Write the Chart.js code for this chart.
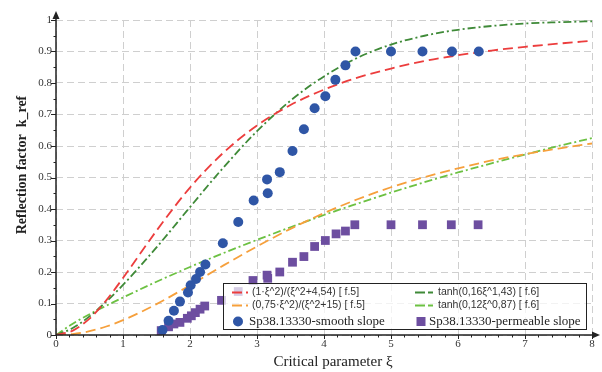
<!DOCTYPE html>
<html>
<head>
<meta charset="utf-8">
<script src="https://cdn.jsdelivr.net/npm/chart.js@4.4.1/dist/chart.umd.min.js"></script>
<style>
  html, body { margin: 0; padding: 0; background: #fff; }
  #wrap { width: 602px; height: 372px; }
</style>
</head>
<body>
<div id="wrap"><canvas id="reflChart" width="602" height="372"></canvas></div>
<script>
// xi values at which the approximation curves are sampled
const xiGrid = [0, 0.25, 0.5, 0.75, 1, 1.5, 2, 2.5, 3, 3.5, 4, 4.5, 5, 5.5, 6, 6.5, 7, 7.5, 8];
const kRedF5 = [0, 0.014, 0.052, 0.110, 0.181, 0.331, 0.468, 0.579, 0.665, 0.730, 0.779, 0.817, 0.846, 0.870, 0.888, 0.903, 0.915, 0.925, 0.934];
const kOrangeF5 = [0, 0.003, 0.012, 0.027, 0.047, 0.098, 0.158, 0.221, 0.281, 0.337, 0.387, 0.431, 0.469, 0.501, 0.529, 0.554, 0.574, 0.592, 0.608];
const kDarkGreenF6 = [0, 0.022, 0.059, 0.106, 0.159, 0.278, 0.406, 0.532, 0.647, 0.744, 0.821, 0.880, 0.922, 0.950, 0.969, 0.981, 0.989, 0.993, 0.996];
const kLightGreenF6 = [0, 0.036, 0.066, 0.093, 0.119, 0.169, 0.216, 0.260, 0.302, 0.342, 0.381, 0.417, 0.452, 0.485, 0.516, 0.545, 0.573, 0.600, 0.625];

// Sp38.13330 points - smooth slope
const smoothXi = [1.59, 1.68, 1.76, 1.85, 1.97, 2.01, 2.09, 2.15, 2.23, 2.49, 2.72, 2.95, 3.15, 3.16, 3.34, 3.53, 3.70, 3.86, 4.02, 4.17, 4.32, 4.47, 5.0, 5.47, 5.91, 6.31];
const smoothK = [0.016, 0.045, 0.077, 0.106, 0.135, 0.158, 0.178, 0.200, 0.224, 0.291, 0.359, 0.427, 0.494, 0.450, 0.517, 0.584, 0.653, 0.720, 0.758, 0.810, 0.856, 0.900, 0.900, 0.900, 0.900, 0.900];

// Sp38.13330 points - permeable slope
const permXi = [1.57, 1.68, 1.76, 1.85, 1.96, 2.02, 2.08, 2.15, 2.22, 2.47, 2.72, 2.94, 3.15, 3.16, 3.34, 3.53, 3.70, 3.86, 4.02, 4.18, 4.32, 4.46, 5.0, 5.47, 5.90, 6.30];
const permK = [0.014, 0.026, 0.035, 0.040, 0.053, 0.061, 0.071, 0.082, 0.092, 0.110, 0.138, 0.173, 0.190, 0.180, 0.200, 0.231, 0.249, 0.281, 0.300, 0.321, 0.330, 0.350, 0.350, 0.350, 0.350, 0.350];

const curveLabels = [
  "(1·ξ^2)/(ξ^2+4,54) [ f.5]",
  "(0,75·ξ^2)/(ξ^2+15) [ f.5]",
  "tanh(0,16ξ^1,43) [ f.6]",
  "tanh(0,12ξ^0,87) [ f.6]"
];
const pointLabels = ["Sp38.13330-smooth slope", "Sp38.13330-permeable slope"];
const xTitle = "Critical parameter ξ";
const yTitle = "Reflection factor  k_ref";

const colRed = "#ec3d3d";
const colOrange = "#f6a03c";
const colDarkGreen = "#3f8a38";
const colLightGreen = "#6cc142";
const colBlue = "#2f56a6";
const colPurple = "#6d4ea0";

const toPoints = (xs, ys) => xs.map((v, i) => ({ x: v, y: ys[i] }));

const curve = (label, ys, color, dash) => ({
  type: "line",
  label: label,
  data: toPoints(xiGrid, ys),
  borderColor: color,
  borderWidth: 1.8,
  borderDash: dash,
  pointRadius: 0,
  showLine: true,
  fill: false,
  cubicInterpolationMode: "monotone"
});

// ticks, arrows, axis titles and the legend box
const decorPlugin = {
  id: "decor",
  afterDraw(chart) {
    const { ctx, chartArea: a, scales } = chart;
    const sx = scales.x, sy = scales.y;
    ctx.save();
    ctx.strokeStyle = "#222";
    ctx.fillStyle = "#222";

    // tick marks
    ctx.lineWidth = 1;
    for (let i = 0; i <= 20; i++) {
      const py = Math.round(sy.getPixelForValue(i * 0.05)) + 0.5;
      const len = i % 2 === 0 ? 5 : 2.5;
      ctx.beginPath();
      ctx.moveTo(a.left - len, py);
      ctx.lineTo(a.left, py);
      ctx.stroke();
    }
    for (let i = 0; i <= 40; i++) {
      const px = Math.round(sx.getPixelForValue(i * 0.2)) + 0.5;
      const len = i % 5 === 0 ? 4 : 2.5;
      ctx.beginPath();
      ctx.moveTo(px, a.bottom);
      ctx.lineTo(px, a.bottom + len);
      ctx.stroke();
    }

    // axis lines with arrows
    ctx.lineWidth = 1.5;
    ctx.beginPath();
    ctx.moveTo(a.left, a.bottom);
    ctx.lineTo(a.left, a.top - 2);
    ctx.moveTo(a.left, a.bottom);
    ctx.lineTo(a.right + 1, a.bottom);
    ctx.stroke();
    ctx.beginPath();
    ctx.moveTo(a.left, a.top - 9);
    ctx.lineTo(a.left - 3.5, a.top - 1);
    ctx.lineTo(a.left + 3.5, a.top - 1);
    ctx.closePath();
    ctx.fill();
    ctx.beginPath();
    ctx.moveTo(a.right + 8, a.bottom);
    ctx.lineTo(a.right, a.bottom - 3.5);
    ctx.lineTo(a.right, a.bottom + 3.5);
    ctx.closePath();
    ctx.fill();

    // axis titles
    ctx.fillStyle = "#222";
    ctx.textAlign = "center";
    ctx.textBaseline = "middle";
    ctx.font = "15px 'Liberation Serif'";
    ctx.fillText(xTitle, 333, 362);
    ctx.save();
    ctx.translate(22, 165);
    ctx.rotate(-Math.PI / 2);
    ctx.font = "bold 14px 'Liberation Serif'";
    ctx.fillText(yTitle, 0, 0);
    ctx.restore();

    // legend
    const box = { l: 223, t: 283, r: 587, b: 330 };
    ctx.fillStyle = "rgba(255,255,255,0.72)";
    ctx.fillRect(box.l, box.t, box.r - box.l, box.b - box.t);
    ctx.lineWidth = 1;
    ctx.strokeStyle = "#222";
    ctx.strokeRect(box.l + 0.5, box.t + 0.5, box.r - box.l - 1, box.b - box.t - 1);

    const rows = [292.5, 305.5, 321.5];
    const lineSym = (x0, yy, color, dashDot) => {
      ctx.strokeStyle = color;
      ctx.lineWidth = 1.8;
      ctx.beginPath();
      ctx.moveTo(x0, yy);
      ctx.lineTo(x0 + 10, yy);
      if (dashDot) {
        ctx.moveTo(x0 + 13, yy);
        ctx.lineTo(x0 + 18, yy);
      } else {
        ctx.moveTo(x0 + 14, yy);
        ctx.lineTo(x0 + 16, yy);
      }
      ctx.stroke();
    };
    lineSym(232, rows[0], colRed, false);
    lineSym(232, rows[1], colOrange, false);
    lineSym(415, rows[0], colDarkGreen, true);
    lineSym(415, rows[1], colLightGreen, true);

    ctx.fillStyle = "#333";
    ctx.textAlign = "left";
    ctx.font = "10.5px 'Liberation Sans'";
    ctx.fillText(curveLabels[0], 252, rows[0]);
    ctx.fillText(curveLabels[1], 252, rows[1]);
    ctx.fillText(curveLabels[2], 438, rows[0]);
    ctx.fillText(curveLabels[3], 438, rows[1]);

    ctx.fillStyle = colBlue;
    ctx.beginPath();
    ctx.arc(238, rows[2], 5, 0, Math.PI * 2);
    ctx.fill();
    ctx.fillStyle = colPurple;
    ctx.fillRect(416.5, rows[2] - 4.5, 9, 9);

    ctx.fillStyle = "#222";
    ctx.font = "13px 'Liberation Serif'";
    ctx.fillText(pointLabels[0], 249, rows[2] + 0.5);
    ctx.fillText(pointLabels[1], 429, rows[2] + 0.5);
    ctx.restore();
  }
};

const gridStyle = {
  color: "#cfcfcf",
  lineWidth: 1,
  drawTicks: false
};

new Chart(document.getElementById("reflChart"), {
  type: "scatter",
  data: {
    datasets: [
      {
        label: pointLabels[0],
        data: toPoints(smoothXi, smoothK),
        backgroundColor: colBlue,
        borderWidth: 0,
        pointRadius: 5,
        pointStyle: "circle"
      },
      {
        label: pointLabels[1],
        data: toPoints(permXi, permK),
        backgroundColor: colPurple,
        borderWidth: 0,
        pointRadius: 6.2,
        pointStyle: "rect"
      },
      curve(curveLabels[0], kRedF5, colRed, [10, 5]),
      curve(curveLabels[2], kDarkGreenF6, colDarkGreen, [8, 3, 2, 3]),
      curve(curveLabels[1], kOrangeF5, colOrange, [10, 5]),
      curve(curveLabels[3], kLightGreenF6, colLightGreen, [8, 3, 2, 3])
    ]
  },
  options: {
    responsive: false,
    animation: false,
    devicePixelRatio: 1,
    layout: { padding: { top: 20, right: 10, left: 0, bottom: 0 } },
    plugins: {
      legend: { display: false },
      tooltip: { enabled: false }
    },
    scales: {
      x: {
        type: "linear",
        min: 0,
        max: 8,
        grid: gridStyle,
        border: { display: false, dash: [7, 4] },
        ticks: {
          stepSize: 1,
          padding: 3,
          color: "#333",
          font: { family: "'Liberation Serif'", size: 11 },
          callback: (v) => String(Math.round(v))
        },
        afterFit: (s) => { s.height = 37; }
      },
      y: {
        type: "linear",
        min: 0,
        max: 1,
        grid: gridStyle,
        border: { display: false, dash: [7, 4] },
        ticks: {
          stepSize: 0.1,
          padding: 4,
          color: "#333",
          font: { family: "'Liberation Serif'", size: 11 },
          callback: (v) => String(Math.round(v * 10) / 10)
        },
        afterFit: (s) => { s.width = 56; }
      }
    }
  },
  plugins: [decorPlugin]
});
</script>
</body>
</html>
